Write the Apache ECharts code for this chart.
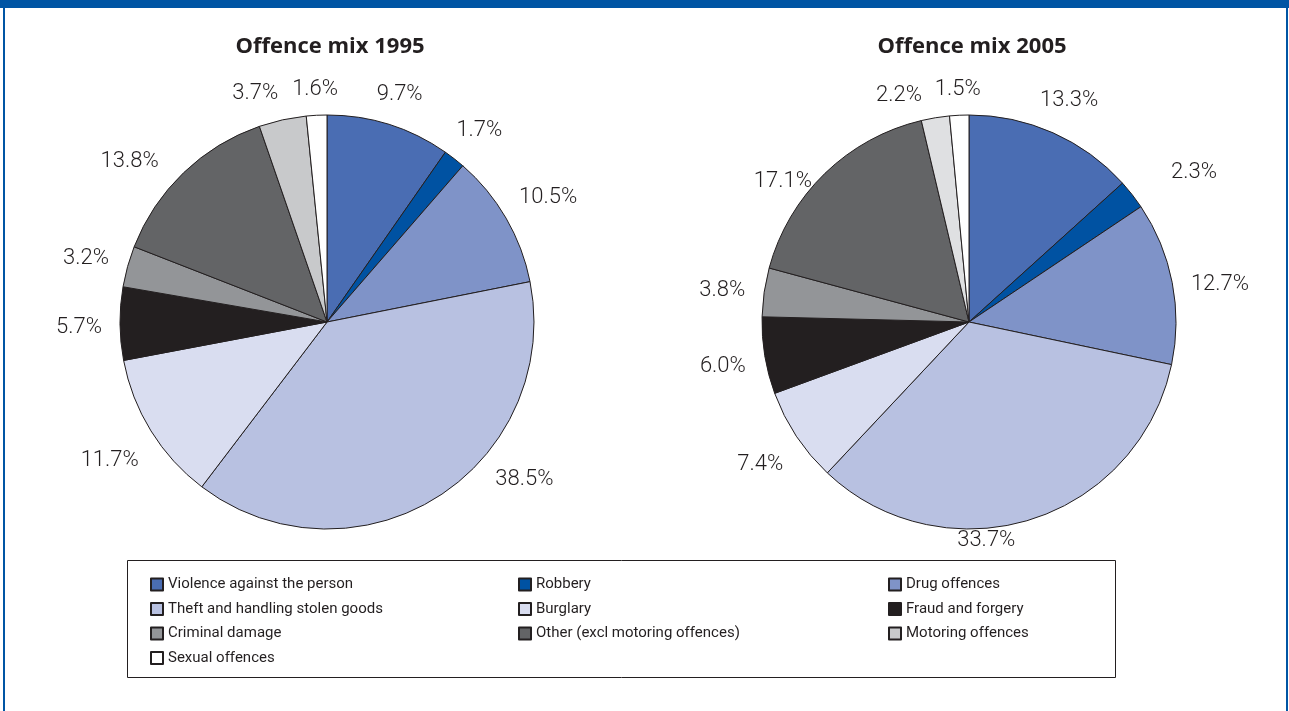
<!DOCTYPE html>
<html>
<head>
<meta charset="utf-8">
<script src="https://cdn.jsdelivr.net/npm/echarts@6/dist/echarts.min.js"></script>
<style>
html,body{margin:0;padding:0;background:#fff;}
#c{width:1289px;height:711px;}
</style>
</head>
<body>
<div id="c"></div>
<script>
const categories = ['Violence against the person','Robbery','Drug offences','Theft and handling stolen goods','Burglary','Fraud and forgery','Criminal damage','Other (excl motoring offences)','Motoring offences','Sexual offences'];
const values1995 = [9.7,1.7,10.5,38.5,11.7,5.7,3.2,13.8,3.7,1.6];
const values2005 = [13.3,2.3,12.7,33.7,7.4,6.0,3.8,17.1,2.2,1.5];
const colors1995 = ['#4a6db3','#0052a2','#7f93c8','#b8c1e1','#d9ddf0','#231f20','#939598','#636466','#c8c9cb','#ffffff'];
const colors2005 = ['#4a6db3','#0052a2','#7f93c8','#b8c1e1','#d9ddf0','#231f20','#939598','#636466','#dfe0e2','#ffffff'];
const titles = ['Offence mix 1995','Offence mix 2005'];
const legendCols = [
  ['Violence against the person','Theft and handling stolen goods','Criminal damage','Sexual offences'],
  ['Robbery','Burglary','Other (excl motoring offences)'],
  ['Drug offences','Fraud and forgery','Motoring offences']
];
// manual label nudges (px), as in the original where some labels were moved by hand
const labelNudge1995 = { 3: [65, -58], 7: [-22, 18], 8: [-20, 3] };
const labelNudge2005 = { 1: [28, 0], 2: [0, 7], 3: [-56, -18], 7: [-10, 37], 8: [-31, 6] };

const FONT = 'Roboto';
const TXT = '#231f20';
const R = 207, CY = 322, GAP = 18, DY = 4;

function pieSeries(name, vals, cols, cx, nudge) {
  return {
    type: 'pie',
    name: name,
    center: [cx, CY],
    radius: R,
    startAngle: 90,
    clockwise: true,
    avoidLabelOverlap: false,
    label: {
      show: true,
      position: 'outside',
      alignTo: 'none',
      formatter: p => p.value.toFixed(1) + '%',
      fontFamily: FONT,
      fontWeight: 300,
      fontSize: 22,
      color: TXT,
      distanceToLabelLine: 0
    },
    labelLine: { show: false, length: 20, length2: 0 },
    labelLayout: function (p) {
      const r = p.labelRect;
      let ax = r.x + r.width / 2;
      if (p.align === 'left') ax = r.x;
      else if (p.align === 'right') ax = r.x + r.width;
      const ay = r.y + r.height / 2;
      const vx = ax - cx, vy = ay - CY;
      const L = Math.hypot(vx, vy) || 1;
      const dx = vx / L, dy = vy / L;
      const ext = Math.abs(dx) * r.width / 2 + Math.abs(dy) * r.height / 2;
      const d = R + GAP + ext;
      const n = nudge[p.dataIndex] || [0, 0];
      return { x: cx + dx * d + n[0], y: CY + dy * d + DY + n[1], align: 'center', verticalAlign: 'middle' };
    },
    itemStyle: { borderColor: TXT, borderWidth: 1 },
    emphasis: { disabled: true },
    data: categories.map((c, i) => ({ name: c, value: vals[i], itemStyle: { color: cols[i] } }))
  };
}

const chart = echarts.init(document.getElementById('c'), null, { renderer: 'canvas' });
chart.setOption({
  animation: false,
  backgroundColor: '#fff',
  title: [
    { text: titles[0], left: 325, top: 31, textAlign: 'center', textStyle: { fontFamily: 'Open Sans', fontWeight: 'bold', fontSize: 22, color: TXT } },
    { text: titles[1], left: 967, top: 31, textAlign: 'center', textStyle: { fontFamily: 'Open Sans', fontWeight: 'bold', fontSize: 22, color: TXT } }
  ],
  legend: legendCols.map((col, k) => ({
    data: col,
    orient: 'vertical',
    left: [150, 518, 888][k],
    top: 577,
    padding: 0,
    itemWidth: 12,
    itemHeight: 12,
    itemGap: 9.5,
    icon: 'rect',
    selectedMode: false,
    textStyle: { fontFamily: FONT, fontSize: 15, color: TXT }
  })),
  graphic: [
    { type: 'rect', shape: { x: 0, y: 0, width: 1289, height: 8 }, style: { fill: '#0055a4' }, silent: true },
    { type: 'rect', shape: { x: 3, y: 0, width: 2, height: 711 }, style: { fill: '#0055a4' }, silent: true },
    { type: 'rect', shape: { x: 1286, y: 0, width: 2, height: 711 }, style: { fill: '#0055a4' }, silent: true },
    { type: 'rect', shape: { x: 127.5, y: 560.5, width: 988, height: 117 }, style: { fill: 'none', stroke: TXT, lineWidth: 1 }, silent: true }
  ],
  series: [
    pieSeries('1995', values1995, colors1995, 327, labelNudge1995),
    pieSeries('2005', values2005, colors2005, 969, labelNudge2005)
  ]
});
</script>
</body>
</html>
